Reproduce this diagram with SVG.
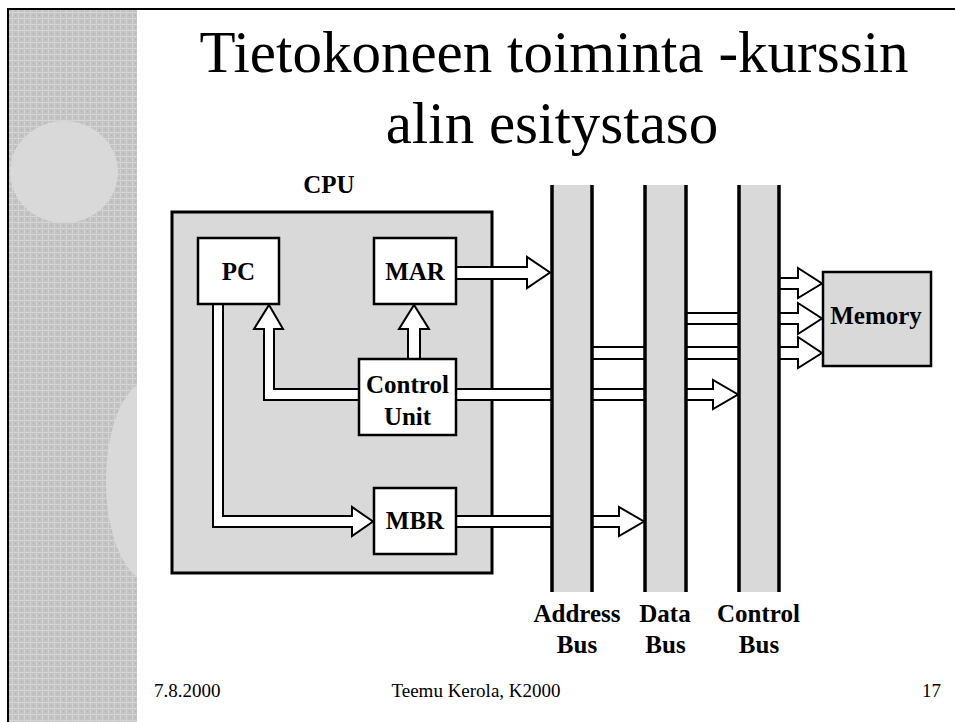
<svg xmlns="http://www.w3.org/2000/svg" width="955" height="722" viewBox="0 0 955 722">
<defs>
<pattern id="tex" x="0" y="0" width="6" height="6" patternUnits="userSpaceOnUse">
<rect width="6" height="6" fill="#c3c3c3"/>
<rect x="0" y="0" width="6" height="1" fill="#d6d6d6"/>
<rect x="0" y="0" width="1" height="6" fill="#d2d2d2"/>
<rect x="3" y="3" width="1" height="1" fill="#b0b0b0"/>
</pattern>
<clipPath id="panel"><rect x="9" y="10" width="128" height="712"/></clipPath>
</defs>
<style>
.title{font-family:"Liberation Serif","Times New Roman",serif;font-size:59px;fill:#000}
.lbl{font-family:"Liberation Serif","Times New Roman",serif;font-size:25px;font-weight:bold;fill:#000;text-anchor:middle}
.foot{font-family:"Liberation Serif","Times New Roman",serif;font-size:19px;fill:#000}
.node{fill:#fff;stroke:#000;stroke-width:2.5}
.arrow{fill:#fff;stroke:#000;stroke-width:2;stroke-linejoin:miter}
.busfill{fill:#d9d9d9}
.busline{stroke:#000;stroke-width:3.5}
</style>
<rect x="0" y="0" width="955" height="722" fill="#fff"/>
<g id="background">
<rect x="9" y="10" width="128" height="712" fill="url(#tex)"/>
<g clip-path="url(#panel)" fill="#d9d9d9">
<ellipse cx="64" cy="172" rx="54" ry="51"/>
<ellipse cx="150" cy="481" rx="44" ry="100"/>
</g>
<line x1="8" y1="9" x2="955" y2="9" stroke="#000" stroke-width="2"/>
<line x1="8" y1="8" x2="8" y2="722" stroke="#000" stroke-width="2"/>
</g>
<g id="title">
<text class="title" x="554" y="72" text-anchor="middle">Tietokoneen toiminta -kurssin</text>
<text class="title" x="552" y="143" text-anchor="middle">alin esitystaso</text>
</g>
<g id="cpu">
<rect x="172" y="212" width="320" height="361" fill="#d9d9d9" stroke="#000" stroke-width="3"/>
<text class="lbl" x="329" y="193">CPU</text>
</g>
<g id="connectors">
<polygon class="arrow" points="456,267 527,267 527,257 550,272.5 527,288 527,279 456,279"/>
<polygon class="arrow" points="456,389 713,389 713,380 738,394.5 713,409 713,400 456,400"/>
<polygon class="arrow" points="592,347 798,347 798,337 822,353 798,368 798,359 592,359"/>
<polygon class="arrow" points="686,313 798,313 798,303 822,318.5 798,334 798,324 686,324"/>
<polygon class="arrow" points="779,278 798,278 798,268 822,283.5 798,298 798,289 779,289"/>
<polygon class="arrow" points="456,516 619,516 619,507 644,521.5 619,536 619,527 456,527"/>
<polygon class="arrow" points="359,389 274,389 274,329 283,329 269,305 254,329 264,329 264,400 359,400"/>
<polygon class="arrow" points="408,359 408,329 399,329 414,305 429,329 420,329 420,359"/>
<polygon class="arrow" points="213,304 213,527 352,527 352,536 373,521.5 352,507 352,516 223,516 223,304"/>
</g>
<g id="pc">
<rect class="node" x="198" y="238" width="81" height="66"/>
<text class="lbl" x="238.5" y="280">PC</text>
</g>
<g id="mar">
<rect class="node" x="374" y="238" width="82" height="66"/>
<text class="lbl" x="415" y="280">MAR</text>
</g>
<g id="control-unit">
<rect class="node" x="359" y="359" width="97" height="76"/>
<text class="lbl" x="407.5" y="393">Control</text>
<text class="lbl" x="407.5" y="425">Unit</text>
</g>
<g id="mbr">
<rect class="node" x="374" y="488" width="82" height="66"/>
<text class="lbl" x="415" y="529">MBR</text>
</g>
<g id="address-bus">
<rect class="busfill" x="552" y="185" width="40" height="407"/>
<line class="busline" x1="552" y1="185" x2="552" y2="592"/>
<line class="busline" x1="592" y1="185" x2="592" y2="592"/>
<text class="lbl" x="577" y="622">Address</text>
<text class="lbl" x="577" y="653">Bus</text>
</g>
<g id="data-bus">
<rect class="busfill" x="645" y="185" width="41" height="407"/>
<line class="busline" x1="645" y1="185" x2="645" y2="592"/>
<line class="busline" x1="686" y1="185" x2="686" y2="592"/>
<text class="lbl" x="665" y="622">Data</text>
<text class="lbl" x="665.5" y="653">Bus</text>
</g>
<g id="control-bus">
<rect class="busfill" x="739" y="185" width="40" height="407"/>
<line class="busline" x1="739" y1="185" x2="739" y2="592"/>
<line class="busline" x1="779" y1="185" x2="779" y2="592"/>
<text class="lbl" x="758.5" y="622">Control</text>
<text class="lbl" x="759" y="653">Bus</text>
</g>
<g id="memory">
<rect x="823" y="272" width="108" height="94" fill="#d9d9d9" stroke="#000" stroke-width="2.5"/>
<text class="lbl" x="876" y="324">Memory</text>
</g>
<g id="footer">
<text class="foot" x="154" y="697">7.8.2000</text>
<text class="foot" x="476" y="697" text-anchor="middle">Teemu Kerola, K2000</text>
<text class="foot" x="941" y="697" text-anchor="end">17</text>
</g>
</svg>
